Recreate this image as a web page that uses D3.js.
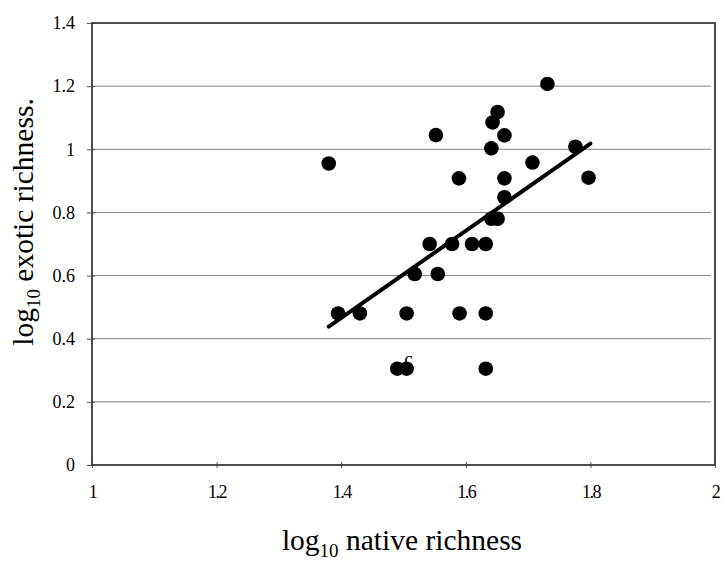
<!DOCTYPE html>
<html>
<head>
<meta charset="utf-8">
<script src="https://cdn.jsdelivr.net/npm/d3@7"></script>
<style>
  html, body { margin: 0; padding: 0; background: #fff; }
  svg { display: block; }
  .tick text { font-family: 'Liberation Serif', 'Times New Roman', serif; font-size: 18px; fill: #000; }
  .x-axis .tick text { letter-spacing: -1.5px; }
</style>
</head>
<body>
<svg id="chart" width="726" height="567"></svg>
<script>
// Sites: log10 native species richness vs log10 exotic species richness
const nativeRichness = [
  1.38, 1.395, 1.43, 1.49, 1.505, 1.505, 1.518, 1.542, 1.552, 1.555,
  1.578, 1.589, 1.59, 1.61, 1.632, 1.632, 1.632, 1.641, 1.641, 1.651,
  1.643, 1.651, 1.662, 1.662, 1.662, 1.707, 1.731, 1.776, 1.797
];
const exoticRichness = [
  0.955, 0.48, 0.48, 0.305, 0.305, 0.48, 0.605, 0.70, 1.045, 0.605,
  0.70, 0.908, 0.48, 0.70, 0.70, 0.48, 0.305, 1.003, 0.78, 0.78,
  1.085, 1.118, 1.044, 0.908, 0.848, 0.958, 1.207, 1.008, 0.91
];

// Least-squares trend line, drawn over the range of native richness
const trendX = [1.38, 1.80];
const trendY = [0.438, 1.018];

const xTicks = [1, 1.2, 1.4, 1.6, 1.8, 2];
const yTicks = [0, 0.2, 0.4, 0.6, 0.8, 1, 1.2, 1.4];

const svg = d3.select("#chart");
const plotLeft = 92, plotRight = 715, plotTop = 23, plotBottom = 465;

const x = d3.scaleLinear().domain([1, 2]).range([plotLeft, plotRight]);
const y = d3.scaleLinear().domain([0, 1.4]).range([plotBottom, plotTop]);

const serif = "'Liberation Serif', 'Times New Roman', serif";

// Horizontal gridlines
svg.append("g")
  .selectAll("line")
  .data(yTicks.filter(v => v > 0 && v < 1.4))
  .join("line")
  .attr("x1", plotLeft).attr("x2", plotRight - 4)
  .attr("y1", d => y(d)).attr("y2", d => y(d))
  .attr("stroke", "#808080").attr("stroke-width", 1);

// Axes
const yAxis = d3.axisLeft(y).tickValues(yTicks).tickSize(5).tickPadding(12)
  .tickFormat(d => d3.format("~g")(d));
const xAxis = d3.axisBottom(x).tickValues(xTicks).tickSize(5).tickPadding(15)
  .tickFormat(d => d3.format("~g")(d));

const gy = svg.append("g").attr("class", "y-axis")
  .attr("transform", `translate(${plotLeft},0)`).call(yAxis);
const gx = svg.append("g").attr("class", "x-axis")
  .attr("transform", `translate(0,${plotBottom})`).call(xAxis);

[gx, gy].forEach(g => {
  g.select(".domain").remove();
  g.selectAll(".tick line").attr("stroke", "#555").attr("stroke-width", 1);
});
gx.selectAll(".tick line").attr("y1", -3).attr("y2", 3);
gy.selectAll(".tick line").attr("x1", 3).attr("x2", -5);

// Plot frame
svg.append("rect")
  .attr("x", plotLeft).attr("y", plotTop)
  .attr("width", plotRight - plotLeft).attr("height", plotBottom - plotTop)
  .attr("fill", "none").attr("stroke", "#3a3a3a").attr("stroke-width", 1.8);

// Trend line
const trend = trendX.map((v, i) => [v, trendY[i]]);
svg.append("path")
  .datum(trend)
  .attr("d", d3.line().x(d => x(d[0])).y(d => y(d[1])))
  .attr("stroke", "#000").attr("stroke-width", 4)
  .attr("stroke-linecap", "round").attr("fill", "none");

// Points
const points = nativeRichness.map((v, i) => ({ nx: v, ex: exoticRichness[i] }));
svg.append("g")
  .selectAll("circle")
  .data(points)
  .join("circle")
  .attr("cx", d => x(d.nx)).attr("cy", d => y(d.ex))
  .attr("r", 7.3).attr("fill", "#000");

// Stray annotation mark beside the lowest pair of sites
svg.append("text")
  .attr("x", x(1.508)).attr("y", y(0.306) - 3)
  .attr("text-anchor", "middle")
  .attr("font-family", serif).attr("font-size", 19).attr("fill", "#000")
  .text("c");

// Axis titles
const yTitle = svg.append("text")
  .attr("transform", `translate(33,222) rotate(-90)`)
  .attr("text-anchor", "middle")
  .attr("font-family", serif).attr("font-size", 29.5).attr("fill", "#000");
yTitle.append("tspan").text("log");
yTitle.append("tspan").attr("font-size", 19).attr("dy", 7).text("10");
yTitle.append("tspan").attr("dy", -7).text(" exotic richness.");

const xTitle = svg.append("text")
  .attr("x", 402).attr("y", 550)
  .attr("text-anchor", "middle")
  .attr("font-family", serif).attr("font-size", 29.5).attr("fill", "#000");
xTitle.append("tspan").text("log");
xTitle.append("tspan").attr("font-size", 19).attr("dy", 7).text("10");
xTitle.append("tspan").attr("dy", -7).text(" native richness");
</script>
</body>
</html>
